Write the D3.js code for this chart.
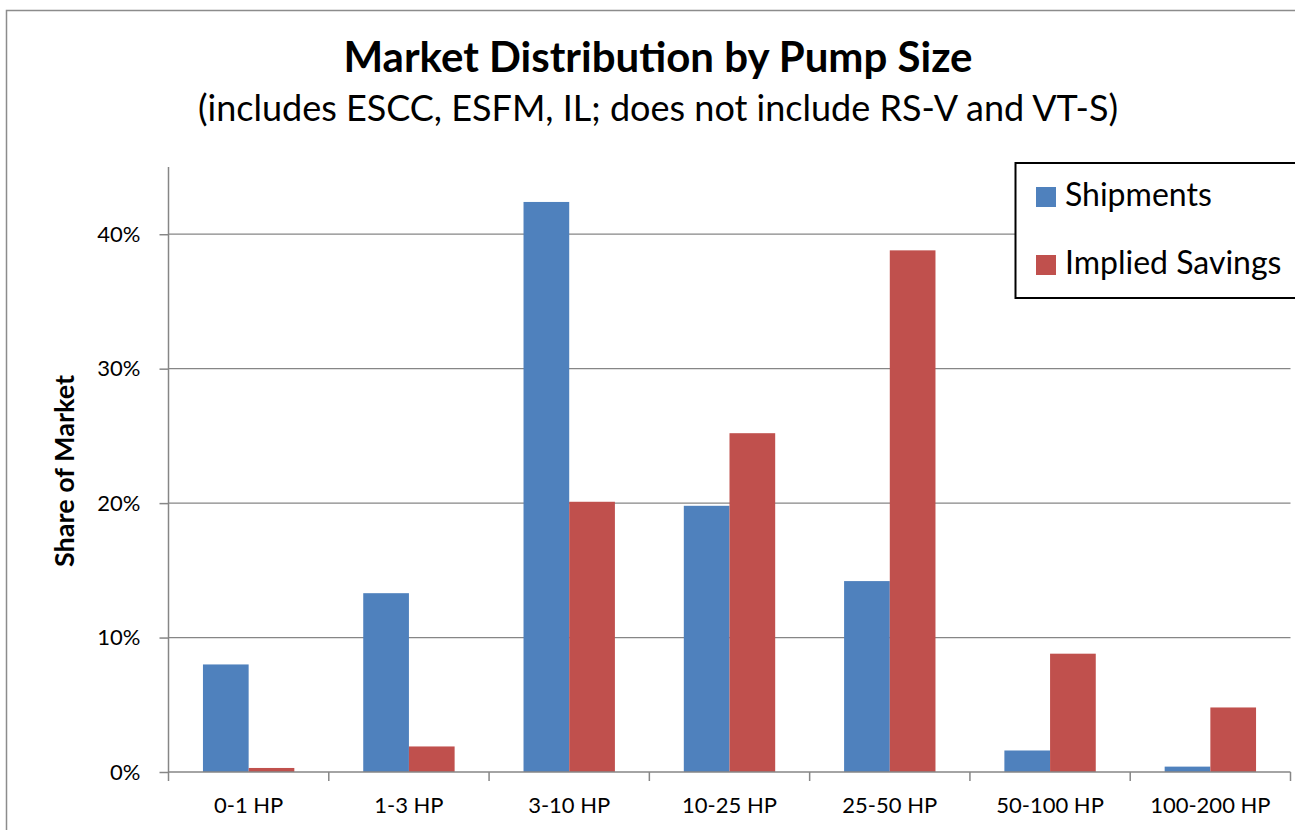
<!DOCTYPE html>
<html>
<head>
<meta charset="utf-8">
<script src="https://cdn.jsdelivr.net/npm/d3@7"></script>
<style>
  html, body { margin: 0; padding: 0; background: #fff; }
  svg { display: block; font-family: Lato, "Open Sans", sans-serif; }
</style>
</head>
<body>
<svg id="chart" width="1295" height="830"></svg>
<script>
// Pump size bins and share of market (%) per series
const categories = ["0-1 HP", "1-3 HP", "3-10 HP", "10-25 HP", "25-50 HP", "50-100 HP", "100-200 HP"];
const seriesNames = ["Shipments", "Implied Savings"];
const shipments = [8.0, 13.3, 42.4, 19.8, 14.2, 1.6, 0.4];
const impliedSavings = [0.3, 1.9, 20.1, 25.2, 38.8, 8.8, 4.8];
const yTicks = [0, 10, 20, 30, 40];
const colors = ["#4F81BD", "#C0504D"];

const title = "Market Distribution by Pump Size";
const subtitle = "(includes ESCC, ESFM, IL; does not include RS-V and VT-S)";
const yTitle = "Share of Market";

const svg = d3.select("#chart");
const plot = { left: 168.5, right: 1290.5, top: 167, bottom: 772 };

// chart frame
svg.append("rect")
  .attr("x", 6.5).attr("y", 10.5)
  .attr("width", 1310).attr("height", 840)
  .attr("fill", "#fff").attr("stroke", "#8c8c8c").attr("stroke-width", 1.5);

const x0 = d3.scaleBand().domain(categories).range([plot.left, plot.right]).padding(0);
const x1 = d3.scaleBand().domain(seriesNames).range([0, x0.bandwidth()])
  .paddingInner(0).paddingOuter(0.754);
const y = d3.scaleLinear().domain([0, 45]).range([plot.bottom, plot.top]);

// horizontal gridlines
svg.append("g")
  .selectAll("line")
  .data(yTicks.filter(t => t > 0))
  .join("line")
  .attr("x1", plot.left).attr("x2", plot.right)
  .attr("y1", d => y(d)).attr("y2", d => y(d))
  .attr("stroke", "#868686").attr("stroke-width", 1.3);

// bars
const rows = categories.map((c, i) => ({ cat: c, values: [shipments[i], impliedSavings[i]] }));
svg.append("g")
  .selectAll("g")
  .data(rows)
  .join("g")
  .attr("transform", d => `translate(${x0(d.cat)},0)`)
  .selectAll("rect")
  .data(d => d.values.map((v, j) => ({ key: seriesNames[j], v, j })))
  .join("rect")
  .attr("x", d => x1(d.key))
  .attr("width", x1.bandwidth())
  .attr("y", d => y(d.v))
  .attr("height", d => y(0) - y(d.v))
  .attr("fill", d => colors[d.j]);

// y axis
const yAxis = d3.axisLeft(y).tickValues(yTicks).tickFormat(d => d + "%").tickSize(9).tickPadding(19);
const gy = svg.append("g").attr("transform", `translate(${plot.left},0)`).call(yAxis);
gy.select(".domain").attr("d", `M0,${plot.top}V${plot.bottom}`).attr("stroke", "#868686").attr("stroke-width", 1.5);
gy.selectAll(".tick line").attr("stroke", "#868686").attr("stroke-width", 1.5);
gy.selectAll(".tick text").attr("fill", "#000").style("font-size", "22px").style("font-family", "Lato, sans-serif");

// x axis with ticks at band boundaries
const gx = svg.append("g").attr("transform", `translate(0,${plot.bottom})`);
gx.append("line").attr("x1", plot.left).attr("x2", plot.right).attr("y1", 0).attr("y2", 0)
  .attr("stroke", "#868686").attr("stroke-width", 1.5);
const bounds = categories.map(c => x0(c)).concat([plot.right]);
gx.selectAll("line.tk").data(bounds).join("line").attr("class", "tk")
  .attr("x1", d => d).attr("x2", d => d).attr("y1", 0).attr("y2", 9)
  .attr("stroke", "#868686").attr("stroke-width", 1.5);
gx.selectAll("text").data(categories).join("text")
  .attr("x", d => x0(d) + x0.bandwidth() / 2)
  .attr("y", 41)
  .attr("text-anchor", "middle")
  .style("font-size", "22px")
  .text(d => d);

// titles
svg.append("text").attr("x", 658).attr("y", 72).attr("text-anchor", "middle")
  .style("font-size", "42px").style("font-weight", "bold").text(title);
svg.append("text").attr("x", 658).attr("y", 121).attr("text-anchor", "middle")
  .style("font-size", "36px").text(subtitle);
svg.append("text")
  .attr("transform", "translate(74,471) rotate(-90)")
  .attr("text-anchor", "middle")
  .style("font-size", "27px").style("font-weight", "bold").text(yTitle);

// legend
const lg = svg.append("g");
lg.append("rect").attr("x", 1015.5).attr("y", 163).attr("width", 300).attr("height", 135)
  .attr("fill", "#fff").attr("stroke", "#000").attr("stroke-width", 2);
const items = lg.selectAll("g.item").data(seriesNames).join("g").attr("class", "item")
  .attr("transform", (d, i) => `translate(1036,${187 + i * 68})`);
items.append("rect").attr("width", 20).attr("height", 20).attr("fill", (d, i) => colors[i]);
items.append("text").attr("x", 29).attr("y", 19).style("font-size", "32px").text(d => d);
</script>
</body>
</html>
